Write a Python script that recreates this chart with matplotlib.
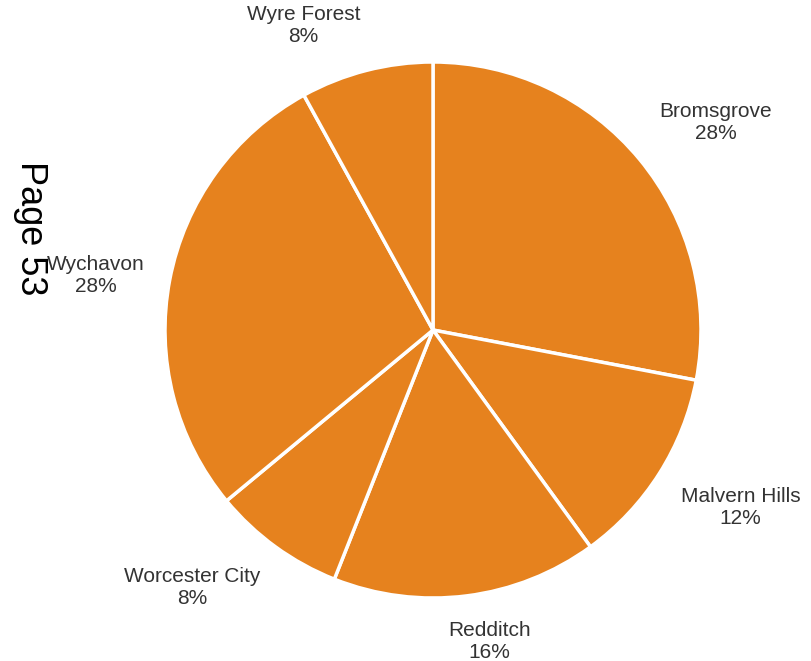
import numpy as np
import matplotlib
matplotlib.use('Agg')
import matplotlib.pyplot as plt

#  Chart data
districts = ['Bromsgrove', 'Malvern Hills', 'Redditch', 'Worcester City', 'Wychavon', 'Wyre Forest']
shares = [28, 12, 16, 8, 28, 8]
slice_color = '#E6821E'

plt.rcParams['font.family'] = ['Liberation Sans', 'DejaVu Sans']

fig = plt.figure(figsize=(8.11, 6.61), dpi=100)
ax = fig.add_axes([0, 0, 1, 1])

#  Draw the pie (axes in pixel units)
cx, cy, rad = 433, 331, 268
labels = ['%s\n%d%%' % (d, s) for d, s in zip(districts, shares)]
wedges, texts = ax.pie(shares, labels=labels, colors=[slice_color] * len(shares),
                       startangle=90, counterclock=False, center=(cx, cy), radius=rad,
                       labeldistance=1.095,
                       wedgeprops={'edgecolor': 'white', 'linewidth': 2.5},
                       textprops={'fontsize': 15, 'color': '#333333'})

#  Anchor label boxes by the corner nearest to the pie
for w, t in zip(wedges, texts):
    ang = np.deg2rad((w.theta1 + w.theta2) / 2.0)
    dx, dy = np.cos(ang), np.sin(ang)
    if dx > 0.2:
        t.set_ha('left')
    elif dx < -0.2:
        t.set_ha('right')
    else:
        t.set_ha('center')
        #  nudge toward the slice side, as the source does
        x, y = t.get_position()
        t.set_position((x + np.sign(dx) * 20, y))
    if dy > 0.3:
        t.set_va('bottom')
    elif dy < -0.3:
        t.set_va('top')
    else:
        t.set_va('center')
    t.set_multialignment('center')

ax.set_xlim(0, 811)
ax.set_ylim(0, 661)
ax.set_aspect('equal')
ax.axis('off')

#  Page marker
fig.text(30 / 811.0, 1 - 228 / 661.0, 'Page 53', rotation=-90, fontsize=26,
         color='black', ha='center', va='center')

fig.savefig('out.png', dpi=100)
